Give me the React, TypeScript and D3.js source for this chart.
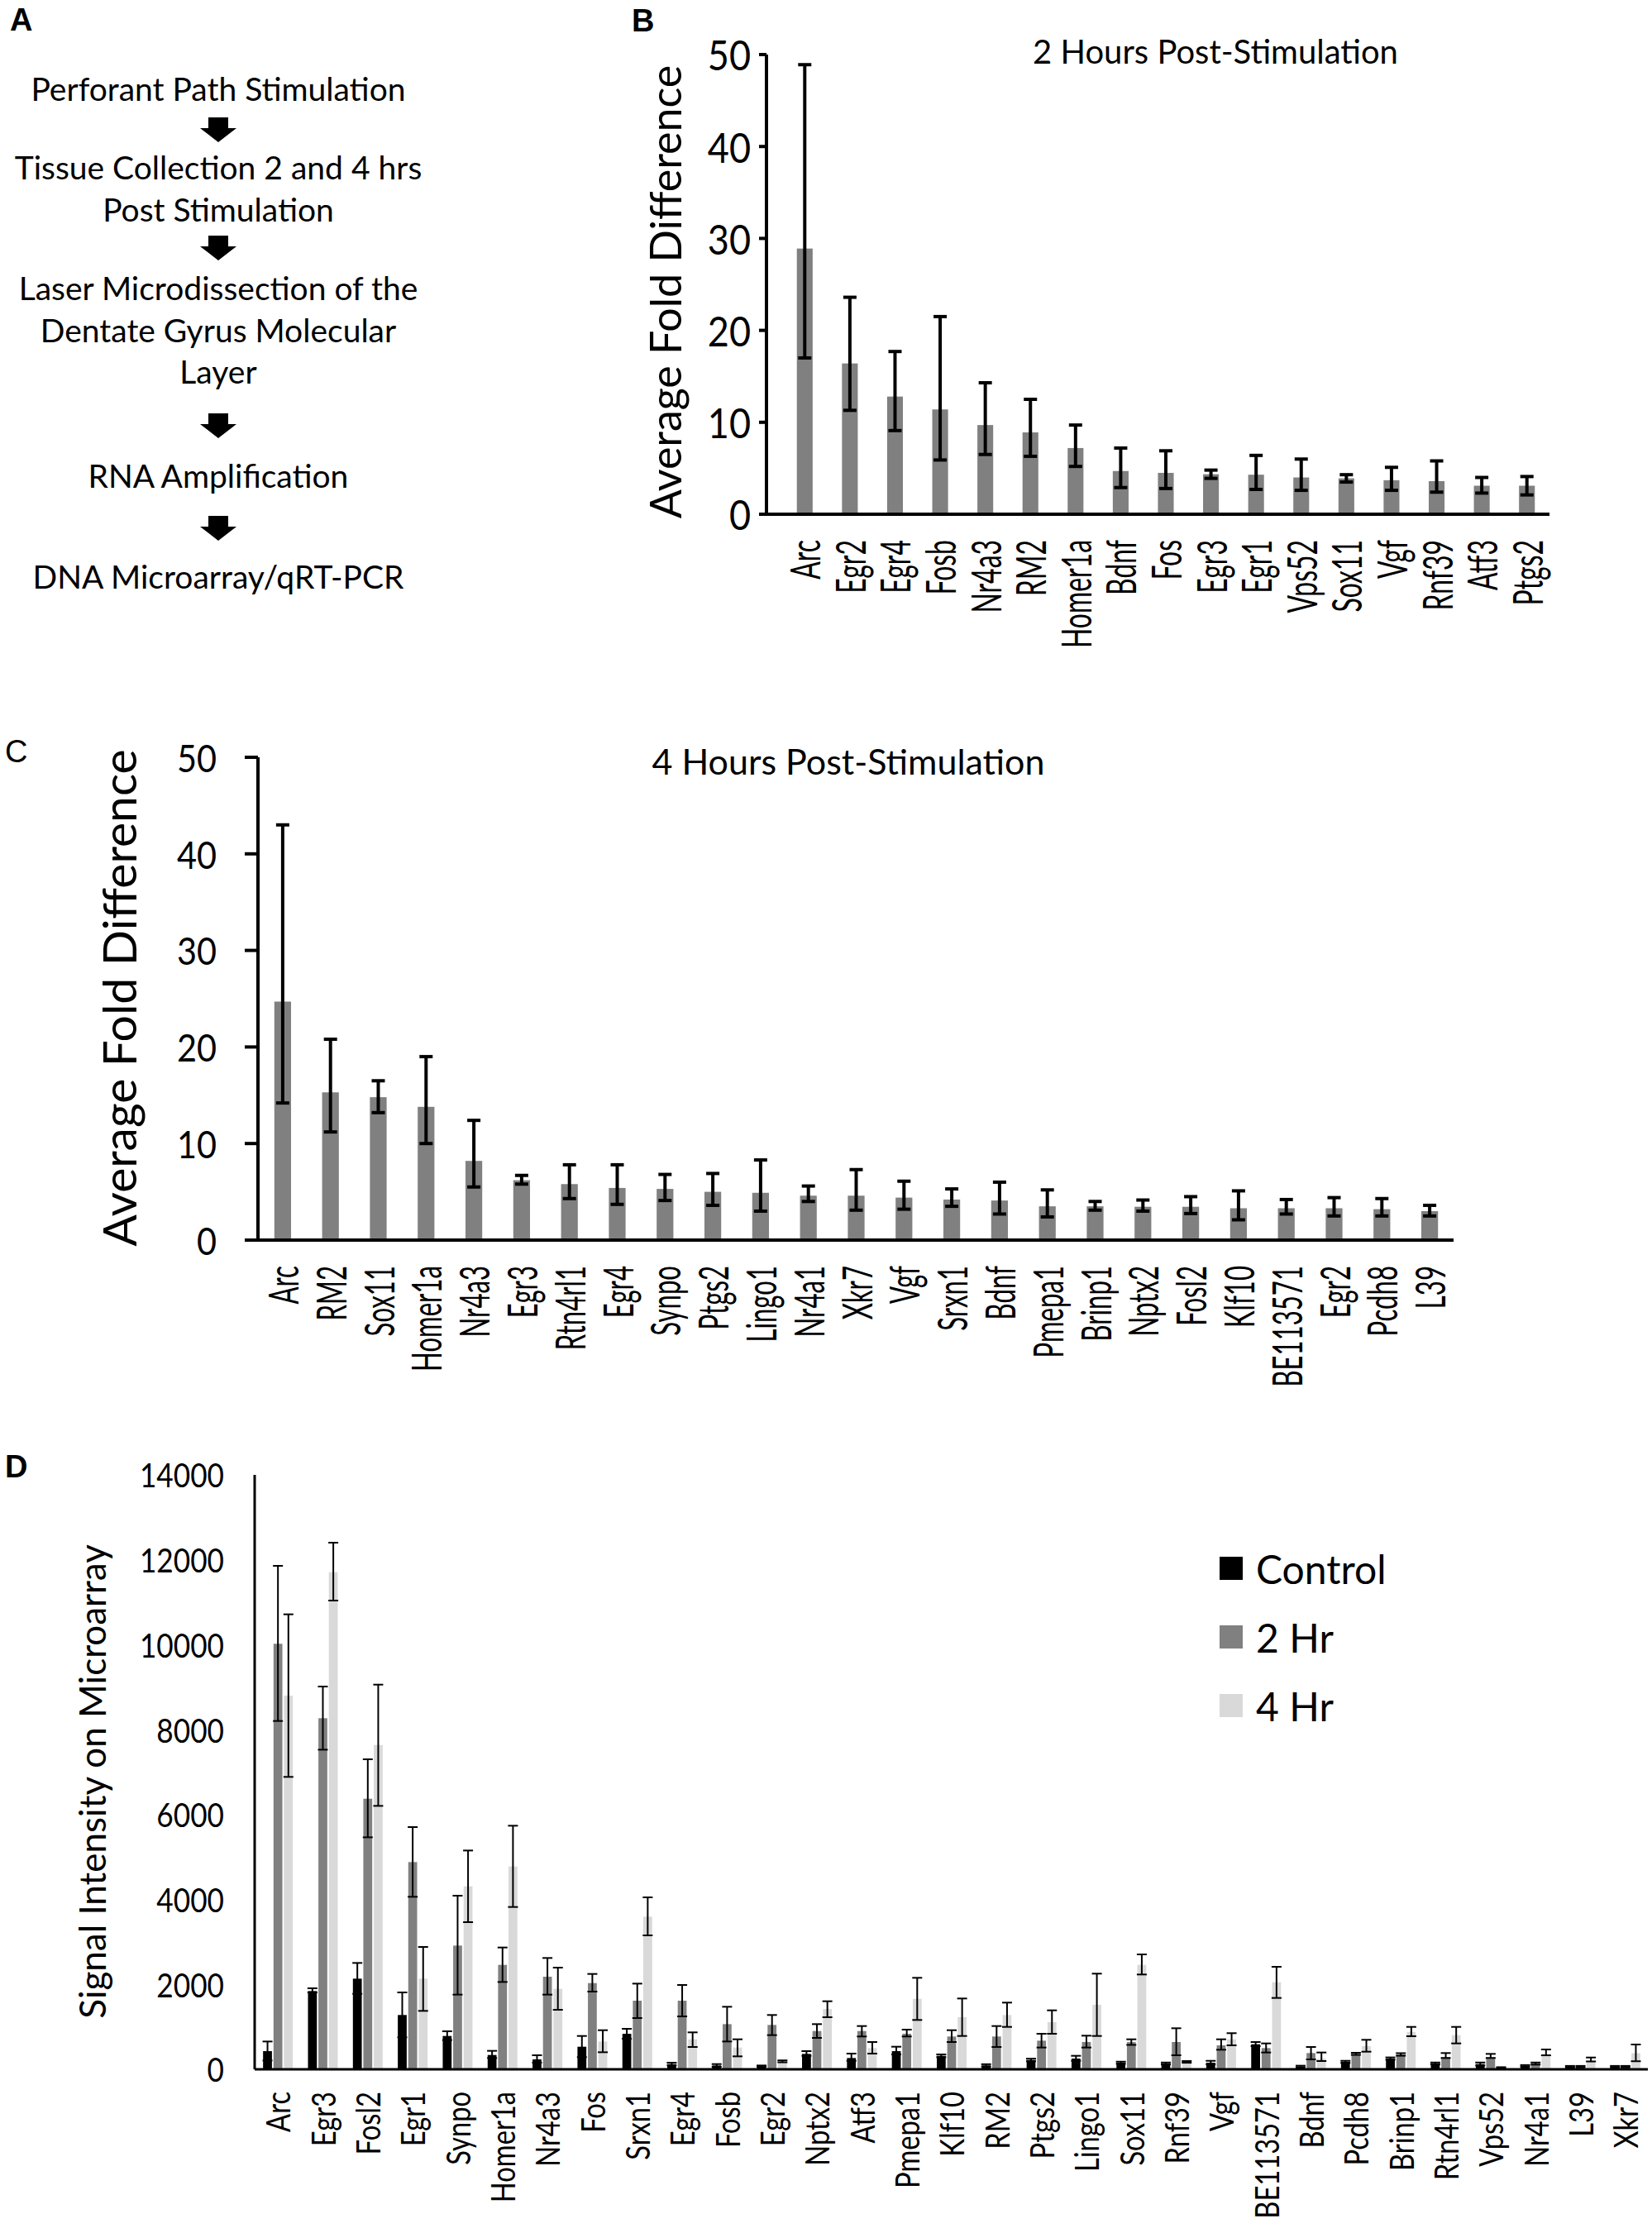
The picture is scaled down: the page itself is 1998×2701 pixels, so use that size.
import * as d3 from "d3";

const FONT = "Lato, 'Open Sans', sans-serif";
const W = 1998;
const H = 2701;

// panel A: workflow
const flowSteps = [
  ["Perforant Path Stimulation"],
  ["Tissue Collection 2 and 4 hrs", "Post Stimulation"],
  ["Laser Microdissection of the", "Dentate Gyrus Molecular", "Layer"],
  ["RNA Amplification"],
  ["DNA Microarray/qRT-PCR"],
];
const flowBaselines = [[122], [217, 268], [363, 414, 464], [590], [712]];
const arrowTops = [142, 285, 500, 624];

// panel B: 2 hours post-stimulation
const genesB = ["Arc", "Egr2", "Egr4", "Fosb", "Nr4a3", "RM2", "Homer1a", "Bdnf", "Fos", "Egr3", "Egr1", "Vps52", "Sox11", "Vgf", "Rnf39", "Atf3", "Ptgs2"];
const meanB = [28.9, 16.4, 12.8, 11.4, 9.7, 8.9, 7.2, 4.7, 4.5, 4.35, 4.3, 4.0, 3.9, 3.7, 3.6, 3.1, 3.1];
const hiB = [48.9, 23.6, 17.7, 21.5, 14.3, 12.5, 9.7, 7.2, 6.9, 4.8, 6.4, 6.0, 4.3, 5.1, 5.8, 4.0, 4.1];
const loB = [17.0, 11.3, 9.1, 5.9, 6.5, 6.3, 5.2, 2.9, 2.8, 3.9, 2.7, 2.6, 3.5, 2.6, 2.4, 2.3, 2.1];

// panel C: 4 hours post-stimulation
const genesC = ["Arc", "RM2", "Sox11", "Homer1a", "Nr4a3", "Egr3", "Rtn4rl1", "Egr4", "Synpo", "Ptgs2", "Lingo1", "Nr4a1", "Xkr7", "Vgf", "Srxn1", "Bdnf", "Pmepa1", "Brinp1", "Nptx2", "Fosl2", "Klf10", "BE113571", "Egr2", "Pcdh8", "L39"];
const meanC = [24.7, 15.3, 14.8, 13.8, 8.2, 6.2, 5.8, 5.4, 5.3, 5.0, 4.9, 4.6, 4.6, 4.4, 4.2, 4.1, 3.5, 3.5, 3.45, 3.45, 3.3, 3.3, 3.3, 3.2, 3.0];
const hiC = [43.0, 20.8, 16.5, 19.0, 12.4, 6.7, 7.8, 7.8, 6.8, 6.9, 8.3, 5.6, 7.3, 6.1, 5.3, 6.0, 5.2, 4.0, 4.15, 4.5, 5.1, 4.2, 4.4, 4.3, 3.6];
const loC = [14.2, 11.2, 13.2, 10.0, 5.5, 5.8, 4.3, 3.7, 4.1, 3.6, 3.0, 4.0, 3.1, 3.2, 3.5, 2.7, 2.4, 3.1, 3.0, 2.75, 2.1, 2.7, 2.5, 2.5, 2.5];

// panel D: microarray signal
const genesD = ["Arc", "Egr3", "Fosl2", "Egr1", "Synpo", "Homer1a", "Nr4a3", "Fos", "Srxn1", "Egr4", "Fosb", "Egr2", "Nptx2", "Atf3", "Pmepa1", "Klf10", "RM2", "Ptgs2", "Lingo1", "Sox11", "Rnf39", "Vgf", "BE113571", "Bdnf", "Pcdh8", "Brinp1", "Rtn4rl1", "Vps52", "Nr4a1", "L39", "Xkr7"];
const seriesD = ["Control", "2 Hr", "4 Hr"];
const colorsD = ["#000000", "#808080", "#d9d9d9"];
const ctrlMean = [428, 1843, 2135, 1279, 785, 337, 234, 532, 837, 123, 91, 71, 363, 266, 428, 318, 91, 220, 253, 156, 136, 156, 590, 65, 175, 253, 136, 123, 80, 62, 62];
const ctrlHi = [655, 1908, 2505, 1811, 896, 435, 331, 785, 954, 156, 123, 90, 428, 370, 532, 350, 120, 250, 318, 180, 160, 200, 643, 85, 200, 280, 160, 160, 100, 80, 80];
const ctrlLo = [208, 1811, 1778, 753, 688, 266, 156, 286, 720, 91, 58, 55, 318, 201, 350, 286, 65, 190, 201, 130, 115, 120, 545, 45, 150, 225, 115, 90, 60, 45, 45];
const hr2Mean = [10022, 8269, 6373, 4881, 2914, 2460, 2181, 2031, 1616, 1616, 1064, 1045, 902, 902, 837, 773, 773, 675, 643, 640, 643, 565, 500, 383, 363, 350, 286, 286, 136, 62, 62];
const hr2Hi = [11858, 9015, 7302, 5705, 4089, 2869, 2622, 2246, 2018, 1986, 1473, 1279, 1064, 1019, 935, 921, 1019, 837, 792, 707, 967, 707, 610, 526, 390, 380, 383, 363, 160, 80, 80];
const hr2Lo = [8204, 7528, 5464, 4063, 1759, 2057, 1759, 1830, 1207, 1246, 655, 805, 740, 773, 773, 643, 526, 513, 513, 575, 331, 461, 396, 234, 340, 320, 266, 266, 110, 45, 45];
const hr4Mean = [8801, 11709, 7639, 2135, 4310, 4777, 1895, 655, 3596, 707, 513, 188, 1421, 500, 1661, 1227, 1279, 1110, 1519, 2460, 175, 707, 2051, 250, 545, 880, 805, 39, 345, 202, 380];
const hr4Hi = [10716, 12403, 9060, 2882, 5153, 5737, 2395, 921, 4050, 870, 707, 210, 1603, 643, 2155, 1668, 1571, 1389, 2253, 2706, 195, 851, 2414, 396, 695, 999, 999, 50, 467, 278, 584];
const hr4Lo = [6887, 11040, 6204, 1376, 3466, 3823, 1402, 402, 3154, 526, 305, 165, 1227, 370, 1162, 785, 999, 837, 785, 2233, 155, 565, 1681, 195, 415, 780, 610, 30, 330, 185, 190];

const meansD = [ctrlMean, hr2Mean, hr4Mean];
const hisD = [ctrlHi, hr2Hi, hr4Hi];
const losD = [ctrlLo, hr2Lo, hr4Lo];

// text helper: position, optional rotation and a squeeze along the text direction
function T(props: {
  x: number;
  y: number;
  rot?: number;
  sx?: number;
  sy?: number;
  size: number;
  anchor?: string;
  baseline?: string;
  children: any;
}) {
  const { x, y, rot = 0, sx = 1, sy = 1, size, anchor = "start", baseline = "auto" } = props;
  return (
    <text
      transform={`translate(${x},${y}) rotate(${rot}) scale(${sx},${sy})`}
      textAnchor={anchor}
      dominantBaseline={baseline}
      fontSize={size}
    >
      {props.children}
    </text>
  );
}

function FlowPanel() {
  const cx = 264;
  return (
    <g fontFamily={FONT} fontSize={39} fill="#000" textAnchor="middle">
      {flowSteps.map((lines, i) =>
        lines.map((t, j) => (
          <text key={`${i}-${j}`} x={cx} y={flowBaselines[i][j]}>
            {t}
          </text>
        ))
      )}
      {arrowTops.map((t, i) => (
        <path
          key={i}
          d={`M${cx - 12},${t} H${cx + 12} V${t + 13} H${cx + 22} L${cx},${t + 30} L${cx - 22},${t + 13} H${cx - 12} Z`}
          fill="#000"
        />
      ))}
    </g>
  );
}

type FoldProps = {
  genes: string[];
  mean: number[];
  hi: number[];
  lo: number[];
  axisX: number;
  yTop: number;
  yBottom: number;
  band: [number, number];
  tickSize: number;
  tickLabelX: number;
  tickFont: number;
  labelTop: number;
  labelFont: number;
  labelSqueeze: number;
  title: string;
  titleX: number;
  titleY: number;
  titleFont: number;
  yLabelX: number;
  yLabelY: number;
  yLabelFont: number;
};

function FoldPanel(p: FoldProps) {
  const x = d3.scaleBand().domain(p.genes).range(p.band).paddingInner(0.65).paddingOuter(0.325);
  const y = d3.scaleLinear().domain([0, 50]).range([p.yBottom, p.yTop]);
  const bw = x.bandwidth();
  const cap = 8;
  return (
    <g fontFamily={FONT} fill="#000">
      {p.genes.map((g, i) => {
        const cx = (x(g) as number) + bw / 2;
        return (
          <g key={g + i}>
            <rect x={x(g)} y={y(p.mean[i])} width={bw} height={y(0) - y(p.mean[i])} fill="#808080" />
            <line x1={cx} x2={cx} y1={y(p.hi[i])} y2={y(p.lo[i])} stroke="#000" strokeWidth={4} />
            <line x1={cx - cap} x2={cx + cap} y1={y(p.hi[i])} y2={y(p.hi[i])} stroke="#000" strokeWidth={4} />
            <line x1={cx - cap} x2={cx + cap} y1={y(p.lo[i])} y2={y(p.lo[i])} stroke="#000" strokeWidth={4} />
            <T x={cx} y={p.labelTop} rot={-90} sx={p.labelSqueeze} sy={1.3} size={p.labelFont} anchor="end" baseline="central">
              {g}
            </T>
          </g>
        );
      })}
      <line x1={p.axisX} x2={p.axisX} y1={p.yTop} y2={p.yBottom} stroke="#000" strokeWidth={4} />
      <line x1={p.axisX - p.tickSize} x2={p.band[1]} y1={p.yBottom} y2={p.yBottom} stroke="#000" strokeWidth={4} />
      {y.ticks(5).map((t) => (
        <g key={t}>
          <line x1={p.axisX - p.tickSize} x2={p.axisX} y1={y(t)} y2={y(t)} stroke="#000" strokeWidth={4} />
          <T x={p.tickLabelX} y={y(t)} sx={0.9} size={p.tickFont} anchor="end" baseline="central">
            {t}
          </T>
        </g>
      ))}
      <text x={p.titleX} y={p.titleY} textAnchor="middle" fontSize={p.titleFont}>
        {p.title}
      </text>
      <T x={p.yLabelX} y={p.yLabelY} rot={-90} size={p.yLabelFont} anchor="middle" baseline="central">
        Average Fold Difference
      </T>
    </g>
  );
}

function SignalPanel() {
  const axisX = 308;
  const yTop = 1784;
  const yBottom = 2503;
  const x0 = d3.scaleBand().domain(genesD).range([309, 1993]);
  const x1 = d3.scaleBand().domain(seriesD).range([-18, 18]).paddingInner(0.15);
  const y = d3.scaleLinear().domain([0, 14000]).range([yBottom, yTop]);
  const bw = x1.bandwidth();
  const cap = 6;
  return (
    <g fontFamily={FONT} fill="#000">
      {genesD.map((g, i) => {
        const gc = (x0(g) as number) + x0.bandwidth() / 2;
        return (
          <g key={g}>
            {seriesD.map((s, k) => {
              const bx = gc + (x1(s) as number);
              const cx = bx + bw / 2;
              const v = meansD[k][i];
              return (
                <g key={s}>
                  <rect x={bx} y={y(v)} width={bw} height={y(0) - y(v)} fill={colorsD[k]} />
                  <line x1={cx} x2={cx} y1={y(hisD[k][i])} y2={y(losD[k][i])} stroke="#000" strokeWidth={2} />
                  <line x1={cx - cap} x2={cx + cap} y1={y(hisD[k][i])} y2={y(hisD[k][i])} stroke="#000" strokeWidth={2} />
                  <line x1={cx - cap} x2={cx + cap} y1={y(losD[k][i])} y2={y(losD[k][i])} stroke="#000" strokeWidth={2} />
                </g>
              );
            })}
            <T x={gc} y={2530} rot={-90} sx={0.86} sy={1.05} size={38} anchor="end" baseline="central">
              {g}
            </T>
          </g>
        );
      })}
      <line x1={axisX} x2={axisX} y1={yTop} y2={yBottom} stroke="#000" strokeWidth={3} />
      <line x1={axisX} x2={1993} y1={yBottom} y2={yBottom} stroke="#000" strokeWidth={3} />
      {y.ticks(7).map((t) => (
        <T key={t} x={271} y={y(t)} sx={0.88} size={40} anchor="end" baseline="central">
          {String(t)}
        </T>
      ))}
      <T x={111} y={2155} rot={-90} size={44} anchor="middle" baseline="central">
        Signal Intensity on Microarray
      </T>
      {seriesD.map((s, k) => (
        <g key={s}>
          <rect x={1475} y={1897 + k * 83 - 14} width={28} height={28} fill={colorsD[k]} />
          <text x={1519} y={1897 + k * 83} dominantBaseline="central" fontSize={48}>
            {s}
          </text>
        </g>
      ))}
    </g>
  );
}

export default function App() {
  return (
    <div>
      <style>{`body{margin:0}`}</style>
      <svg width={W} height={H} viewBox={`0 0 ${W} ${H}`} style={{ display: "block", background: "#fff" }}>
        <g fontFamily="'Liberation Sans', Arial, sans-serif" fontSize={38}>
          <text x={12} y={37} fontWeight="bold">A</text>
          <text x={764} y={38} fontWeight="bold">B</text>
          <text x={6} y={922}>C</text>
          <text x={6} y={1787} fontWeight="bold">D</text>
        </g>
        <FlowPanel />
        <FoldPanel
          genes={genesB}
          mean={meanB}
          hi={hiB}
          lo={loB}
          axisX={927}
          yTop={66}
          yBottom={622}
          band={[946, 1874]}
          tickSize={9}
          tickLabelX={908}
          tickFont={50}
          labelTop={653}
          labelFont={38}
          labelSqueeze={0.84}
          title="2 Hours Post-Stimulation"
          titleX={1470}
          titleY={77}
          titleFont={40}
          yLabelX={804}
          yLabelY={353}
          yLabelFont={52}
        />
        <FoldPanel
          genes={genesC}
          mean={meanC}
          hi={hiC}
          lo={loC}
          axisX={312}
          yTop={916}
          yBottom={1500}
          band={[313, 1758]}
          tickSize={16}
          tickLabelX={262}
          tickFont={46}
          labelTop={1531}
          labelFont={38}
          labelSqueeze={0.82}
          title="4 Hours Post-Stimulation"
          titleX={1026}
          titleY={937}
          titleFont={43}
          yLabelX={143}
          yLabelY={1207}
          yLabelFont={57}
        />
        <SignalPanel />
      </svg>
    </div>
  );
}
